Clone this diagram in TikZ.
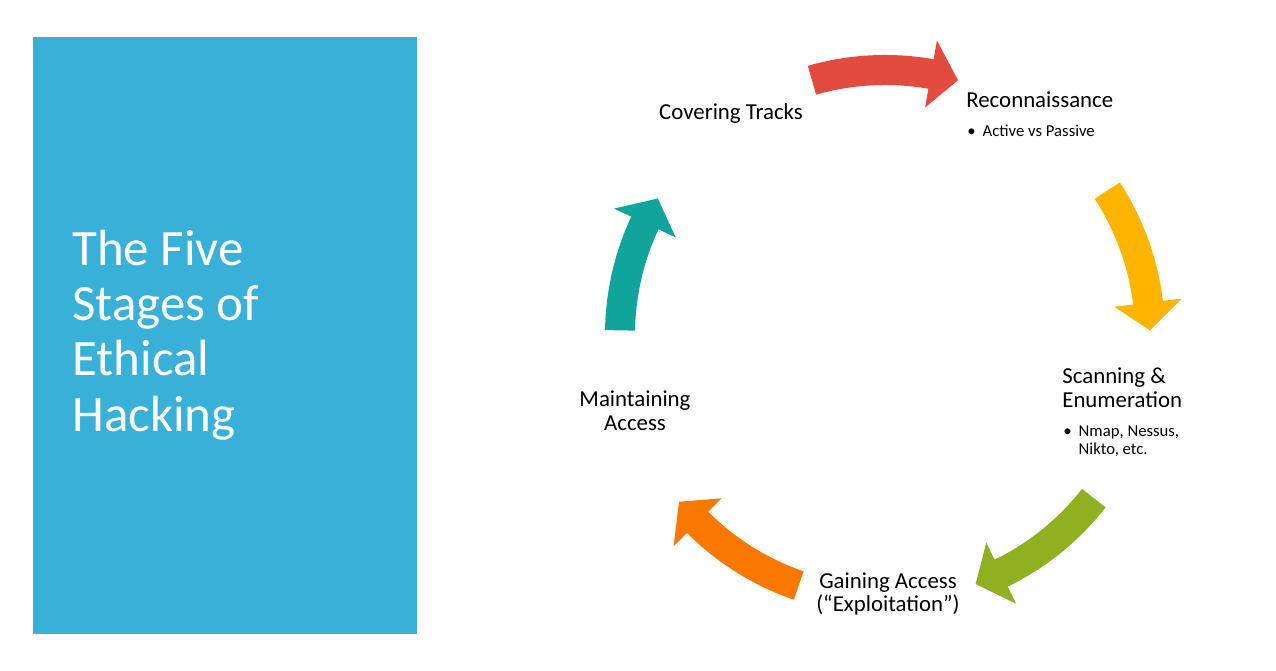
\documentclass[tikz,border=0pt]{standalone}
\usepackage{fontspec}
\setmainfont{Carlito}
\usepackage{tikz}
\usetikzlibrary{calc}
\definecolor{PanelBlue}{HTML}{38B0D8}
\definecolor{ReconRed}{HTML}{E24B3E}
\definecolor{ScanYellow}{HTML}{FFB400}
\definecolor{GainGreen}{HTML}{8FB021}
\definecolor{KeepOrange}{HTML}{FA7800}
\definecolor{TrackTeal}{HTML}{10A49D}

% curved block arrow round (hub): colour, start angle, tip angle
\newcommand{\cyclearrow}[3]{%
  \fill[#1] ($(hub)+(#2:280)$) arc[start angle=#2, end angle=#3+6, radius=280]
    -- ($(hub)+(#3+6:299)$) -- ($(hub)+(#3:265)$) -- ($(hub)+(#3+6:231)$)
    -- ($(hub)+(#3+6:250)$) arc[start angle=#3+6, end angle=#2, radius=250] -- cycle;}

\begin{document}
\begin{tikzpicture}[
        x=0.02cm, y=0.02cm,
        stage/.style={align=center, inner sep=0pt, font=\fontsize{13}{13.6}\selectfont},
        point/.style={align=left, inner sep=0pt, font=\fontsize{9.5}{10.2}\selectfont},
        heading/.style={align=left, inner sep=0pt, text=white, font=\fontsize{29}{31.5}\selectfont}
    ]
    \useasboundingbox (0,0) rectangle (1276,671);
    \fill[white] (0,0) rectangle (1276,671);

    % left panel
    \fill[PanelBlue] (33,37) rectangle (417,634);
    \node[heading, anchor=west] (title) at (72,336) {The Five\\Stages of\\Ethical\\Hacking};

    % cycle
    \coordinate (hub) at (885,336);
    \cyclearrow{ReconRed}{106}{74}
    \cyclearrow{ScanYellow}{33}{1}
    \cyclearrow{GainGreen}{-38}{-70}
    \cyclearrow{KeepOrange}{-109}{-141}
    \cyclearrow{TrackTeal}{179}{149}

    % stages
    \node[stage, anchor=west] (recon) at (966,571) {Reconnaissance};
    \node[point, anchor=west] (reconpt) at (967,540) {•\hspace{4pt}Active vs Passive};
    \node[stage, anchor=west, align=left] (scan) at (1062,283) {Scanning \&\\Enumeration};
    \node[point, anchor=west] (scanpt) at (1063,230) {•\hspace{4pt}Nmap, Nessus,\\\phantom{•}\hspace{4pt}Nikto, etc.};
    \node[stage] (gain) at (888,77) {Gaining Access\\(“Exploitation”)};
    \node[stage] (keep) at (635,260) {Maintaining\\Access};
    \node[stage] (cover) at (731,557) {Covering Tracks};
\end{tikzpicture}
\end{document}
